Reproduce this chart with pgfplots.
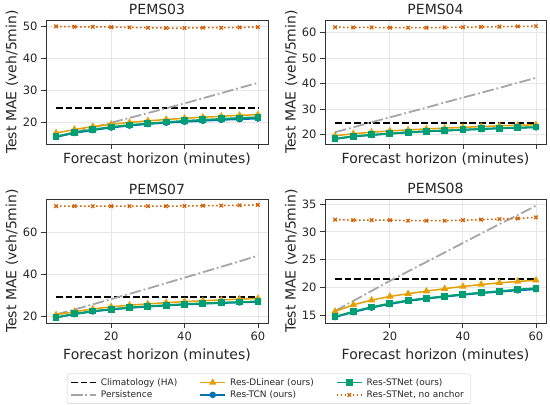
\documentclass[border=0pt]{standalone}
\usepackage{fontspec}
\setmainfont{DejaVu Sans}
\usepackage{pgfplots}
\pgfplotsset{compat=1.18}
\usepackage{pgfplotstable}
\definecolor{cver}{HTML}{D55E00}
\definecolor{cora}{HTML}{E69F00}
\definecolor{cblu}{HTML}{0072B2}
\definecolor{cgre}{HTML}{009E73}
\definecolor{cper}{HTML}{A5A5A5}
\definecolor{gridc}{HTML}{E6E6E6}
\definecolor{spinec}{HTML}{333333}
\definecolor{textc}{HTML}{262626}
\definecolor{legc}{HTML}{D0D0D0}

\pgfplotstableread{
h clim pers dlin tcn stn noa
5 24.6 15.6 16.8 15.6 15.7 49.9
10 24.6 17.0 17.9 16.8 17.0 49.8
15 24.6 18.5 18.8 17.7 17.9 49.8
20 24.6 20.0 19.5 18.5 18.7 49.7
25 24.6 21.5 20.1 19.1 19.3 49.6
30 24.6 23.0 20.6 19.6 19.8 49.5
35 24.6 24.5 21.0 20.0 20.2 49.4
40 24.6 26.0 21.4 20.3 20.6 49.4
45 24.6 27.6 21.7 20.6 20.9 49.5
50 24.6 29.2 22.0 20.9 21.2 49.5
55 24.6 30.8 22.3 21.1 21.5 49.6
60 24.6 32.4 22.5 21.3 21.7 49.7
}\pemsA

\pgfplotstableread{
h clim pers dlin tcn stn noa
5 24.6 21.0 19.6 18.4 18.5 62.0
10 24.6 22.9 20.4 19.3 19.4 61.9
15 24.6 24.9 21.0 19.9 20.0 61.9
20 24.6 26.8 21.5 20.4 20.5 61.8
25 24.6 28.7 21.9 20.9 21.0 61.8
30 24.6 30.6 22.3 21.3 21.4 61.8
35 24.6 32.6 22.6 21.6 21.7 61.9
40 24.6 34.5 22.9 21.9 22.0 62.0
45 24.6 36.4 23.2 22.2 22.3 62.1
50 24.6 38.3 23.5 22.5 22.6 62.2
55 24.6 40.3 23.7 22.7 22.8 62.3
60 24.6 42.2 23.9 22.9 23.0 62.4
}\pemsB

\pgfplotstableread{
h clim pers dlin tcn stn noa
5 29.3 21.0 20.8 19.5 19.6 72.6
10 29.3 23.3 22.3 21.1 21.3 72.6
15 29.3 25.8 23.6 22.4 22.6 72.6
20 29.3 28.3 24.6 23.3 23.5 72.6
25 29.3 30.8 25.4 24.1 24.3 72.6
30 29.3 33.3 26.0 24.7 24.9 72.6
35 29.3 35.9 26.6 25.2 25.4 72.6
40 29.3 38.5 27.1 25.7 25.9 72.7
45 29.3 41.1 27.5 26.1 26.3 72.8
50 29.3 43.7 27.9 26.4 26.6 72.9
55 29.3 46.3 28.3 26.7 26.9 73.0
60 29.3 49.0 28.6 27.0 27.2 73.2
}\pemsC

\pgfplotstableread{
h clim pers dlin tcn stn noa
5 21.5 15.8 15.7 14.7 14.75 32.2
10 21.5 17.6 16.9 15.6 15.7 32.1
15 21.5 19.4 17.75 16.4 16.5 32.1
20 21.5 21.2 18.4 17.05 17.15 32.1
25 21.5 22.9 18.9 17.6 17.7 32.0
30 21.5 24.6 19.35 18.0 18.1 32.0
35 21.5 26.3 19.8 18.35 18.45 32.0
40 21.5 28.0 20.2 18.7 18.8 32.1
45 21.5 29.7 20.55 19.0 19.1 32.2
50 21.5 31.4 20.85 19.25 19.35 32.3
55 21.5 33.0 21.1 19.5 19.65 32.4
60 21.5 34.7 21.3 19.7 19.9 32.6
}\pemsD

\pgfplotsset{
  panel/.style={
    scale only axis, width=222pt, height=124pt,
    xmin=2.25, xmax=62.75, xtick={20,40,60},
    enlargelimits=false,
    grid=major, major grid style={color=gridc, line width=0.8pt},
    axis line style={color=spinec, line width=0.8pt},
    tick align=outside, tick pos=left, major tick length=5pt,
    tick style={color=spinec, line width=0.8pt},
    ticklabel style={font=\fontsize{11.5}{13}\selectfont, text=textc},
    /pgf/number format/assume math mode=true,
    label style={font=\fontsize{14}{16}\selectfont, text=textc},
    title style={font=\fontsize{14}{16}\selectfont, text=textc, at={(axis description cs:0.5,1)}, anchor=base, yshift=-1pt},
    ylabel={Test MAE (veh/5min)},
    ylabel style={at={(axis description cs:-0.153,0.5)}, anchor=center},
    xlabel={Forecast horizon (minutes)},
  },
  toprow/.style={xticklabels={}, xlabel style={at={(axis description cs:0.5,0)}, anchor=base, yshift=-20pt}},
  botrow/.style={xlabel style={at={(axis description cs:0.5,0)}, anchor=base, yshift=-36pt}},
  sclim/.style={black, line width=1.8pt, dash pattern=on 6.7pt off 2.9pt, mark=none},
  spers/.style={cper, line width=1.8pt, dash pattern=on 11.5pt off 2.9pt on 1.8pt off 2.9pt, mark=none},
  sdlin/.style={cora, line width=1.5pt, mark=triangle*, mark size=2.8pt, mark options={solid}},
  stcn/.style={cblu, line width=1.8pt, mark=*, mark size=2.3pt, mark options={solid}},
  sstn/.style={cgre, line width=1.8pt, mark=square*, mark size=2.5pt, mark options={solid}},
  snoa/.style={cver, line width=1.5pt, dash pattern=on 1.5pt off 2.5pt, mark=x, mark size=2.5pt, mark options={solid, line width=1.2pt}},
}

\newcommand{\allplots}[1]{%
  \addplot[sclim] table[x=h,y=clim] {#1};
  \addplot[spers] table[x=h,y=pers] {#1};
  \addplot[sdlin] table[x=h,y=dlin] {#1};
  \addplot[stcn] table[x=h,y=tcn] {#1};
  \addplot[sstn] table[x=h,y=stn] {#1};
  \addplot[snoa] table[x=h,y=noa] {#1};
}

\begin{document}
\begin{tikzpicture}
\useasboundingbox (0,0) rectangle (550pt,405pt);

\begin{axis}[panel, toprow, at={(46pt,261pt)}, anchor=south west,
  title={PEMS03}, ymin=13.4, ymax=51.9, ytick={20,30,40,50}]
\allplots{\pemsA}
\end{axis}

\begin{axis}[panel, toprow, at={(325pt,261pt)}, anchor=south west, width=221pt,
  title={PEMS04}, ymin=16.4, ymax=64.8, ytick={20,30,40,50,60}]
\allplots{\pemsB}
\end{axis}

\begin{axis}[panel, botrow, at={(46pt,82pt)}, anchor=south west,
  title={PEMS07}, ymin=16.9, ymax=76.0, ytick={20,40,60}]
\allplots{\pemsC}
\end{axis}

\begin{axis}[panel, botrow, at={(325pt,82pt)}, anchor=south west, width=221pt,
  title={PEMS08}, ymin=13.64, ymax=35.9, ytick={15,20,25,30,35},
  legend columns=3,
  legend cell align=left,
  legend style={at={(axis description cs:-0.2534,-0.53)}, anchor=center,
    font=\fontsize{9}{11}\selectfont, text=textc, draw=legc, rounded corners=2pt,
    inner xsep=3pt, inner ysep=2.5pt,
    nodes={font=\fontsize{9}{11}\selectfont, text=textc, inner xsep=4pt},
    /tikz/every even column/.append style={column sep=18pt}},
  legend image code/.code={\draw[mark repeat=2, mark phase=2, #1] plot coordinates {(0pt,0pt) (12.5pt,0pt) (25pt,0pt)};},
]
\allplots{\pemsD}
\addlegendimage{sclim}
\addlegendimage{sdlin}
\addlegendimage{sstn}
\addlegendimage{spers}
\addlegendimage{stcn}
\addlegendimage{snoa}
\legend{,,,,,,Climatology (HA),Res-DLinear (ours),Res-STNet (ours),Persistence,Res-TCN (ours),{Res-STNet, no anchor}}
\end{axis}
\end{tikzpicture}
\end{document}
